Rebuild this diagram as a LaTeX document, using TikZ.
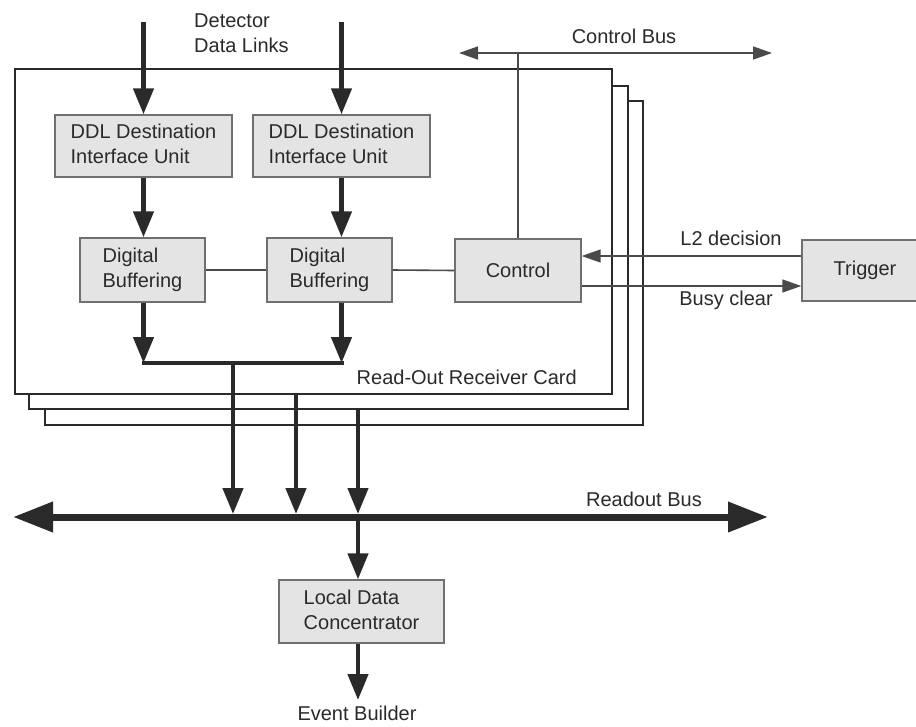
\documentclass[tikz,border=0pt]{standalone}
\usepackage{fontspec}
\setmainfont{Liberation Sans}
\usetikzlibrary{arrows.meta,calc}
\definecolor{ink}{HTML}{2A2A2A}
\definecolor{boxfill}{HTML}{E4E4E4}
\definecolor{boxline}{HTML}{707070}
\begin{document}
\begin{tikzpicture}[x=1pt,y=-1pt,
  every node/.style={font=\fontsize{20}{25}\selectfont, text=ink},
  unit/.style={draw=boxline, line width=1.4pt, fill=boxfill, inner sep=0pt},
  card/.style={draw=ink, line width=2.6pt, fill=white},
  fat/.style={draw=ink, line width=4.5pt, -{Triangle[length=26pt,width=20pt]}},
  fatline/.style={draw=ink, line width=4pt},
  thin/.style={draw=ink!85, line width=1.6pt},
  thinarrow/.style={draw=ink!85, line width=1.6pt, -{Triangle[length=19pt,width=13pt]}},
  lbl/.style={inner sep=0pt}
]
\useasboundingbox (0,0) rectangle (916,726);
\fill[white] (0,0) rectangle (916,726);

% stacked cards
\draw[card] (45,101) rectangle (643,425);
\draw[card] (29,86) rectangle (628,409);
\draw[card] (15,69) rectangle (612,394);

% control bus
\coordinate (cbL) at (459,53);
\coordinate (cbR) at (772,53);
\draw[draw=ink!85, line width=1.6pt, {Triangle[length=19pt,width=13pt]}-{Triangle[length=19pt,width=13pt]}] (cbL) -- (cbR);
\node[lbl] (cblabel) at (624,36) {Control Bus};

% units
\node[unit, minimum width=177pt, minimum height=62pt] (ddl1) at (143.5,146) {\begin{tabular}{@{}l@{}}DDL Destination\\Interface Unit\end{tabular}};
\node[unit, minimum width=177pt, minimum height=62pt] (ddl2) at (341.5,146) {\begin{tabular}{@{}l@{}}DDL Destination\\Interface Unit\end{tabular}};
\node[unit, minimum width=125pt, minimum height=64pt] (db1) at (142.5,270) {\begin{tabular}{@{}l@{}}Digital\\Buffering\end{tabular}};
\node[unit, minimum width=125pt, minimum height=64pt] (db2) at (329.5,270) {\begin{tabular}{@{}l@{}}Digital\\Buffering\end{tabular}};
\node[unit, minimum width=126pt, minimum height=63pt] (ctrl) at (518,270.5) {Control};
\node[unit, minimum width=140pt, minimum height=61pt] (trig) at (872,270.5) {Trigger\hspace*{14pt}};
\node[unit, minimum width=165pt, minimum height=63pt] (ldc) at (361.5,611.5) {\begin{tabular}{@{}l@{}}Local Data\\Concentrator\end{tabular}};

% labels
\node[lbl, anchor=west, align=left] (det) at (194,33) {Detector\\Data Links};
\node[lbl, anchor=east] (rorc) at (577,377) {Read-Out Receiver Card};
\node[lbl] (l2lbl) at (731,238) {L2 decision};
\node[lbl] (bclbl) at (726,300) {Busy clear};
\node[lbl] (rblbl) at (644,499) {Readout Bus};
\node[lbl] (evb) at (357,713) {Event Builder};

% input links
\coordinate (in1) at (143.5,22);
\coordinate (in2) at (341.5,22);
\draw[fat] (in1) -- (ddl1.north);
\draw[fat] (in2) -- (ddl2.north);
\draw[fat] (ddl1.south) -- (ddl1.south |- db1.north);
\draw[fat] (ddl2.south) -- (ddl2.south |- db2.north);

% merge
\coordinate (mergeY) at (0,363);
\draw[fat] (ddl1.south |- db1.south) -- (ddl1.south |- mergeY);
\draw[fat] (ddl2.south |- db2.south) -- (ddl2.south |- mergeY);
\draw[fatline] ($(ddl1.south |- mergeY)+(-2,0)$) -- ($(ddl2.south |- mergeY)+(2,0)$);

% readout bus
\coordinate (busL) at (13,517);
\coordinate (busR) at (768,517);
\draw[draw=ink, line width=7pt, {Triangle[length=40pt,width=29pt]}-{Triangle[length=40pt,width=29pt]}] (busL) -- (busR);

\coordinate (o1) at (233,363);
\coordinate (o2) at (296,394);
\coordinate (o3) at (358,409);
\coordinate (j1) at (233,514);
\coordinate (j2) at (296,514);
\coordinate (j3) at (358,514);
\draw[fat] (o1) -- (j1);
\draw[fat] (o2) -- (j2);
\draw[fat] (o3) -- (j3);
\coordinate (jb) at (358,517);
\draw[fat] (jb) -- (jb |- ldc.north);
\coordinate (evtop) at (358,700);
\draw[fat] (ldc.south -| jb) -- (evtop);

% control connections
\draw[thin] (db1.east) -- (db2.west);
\draw[thin] (db2.east) -- (ctrl.west);
\draw[thin] (ctrl.north) -- (ctrl.north |- cbL);
\coordinate (l2y) at (0,256);
\coordinate (bcy) at (0,286);
\draw[thinarrow] (trig.west |- l2y) -- (ctrl.east |- l2y);
\draw[thinarrow] (ctrl.east |- bcy) -- (trig.west |- bcy);
\end{tikzpicture}
\end{document}
